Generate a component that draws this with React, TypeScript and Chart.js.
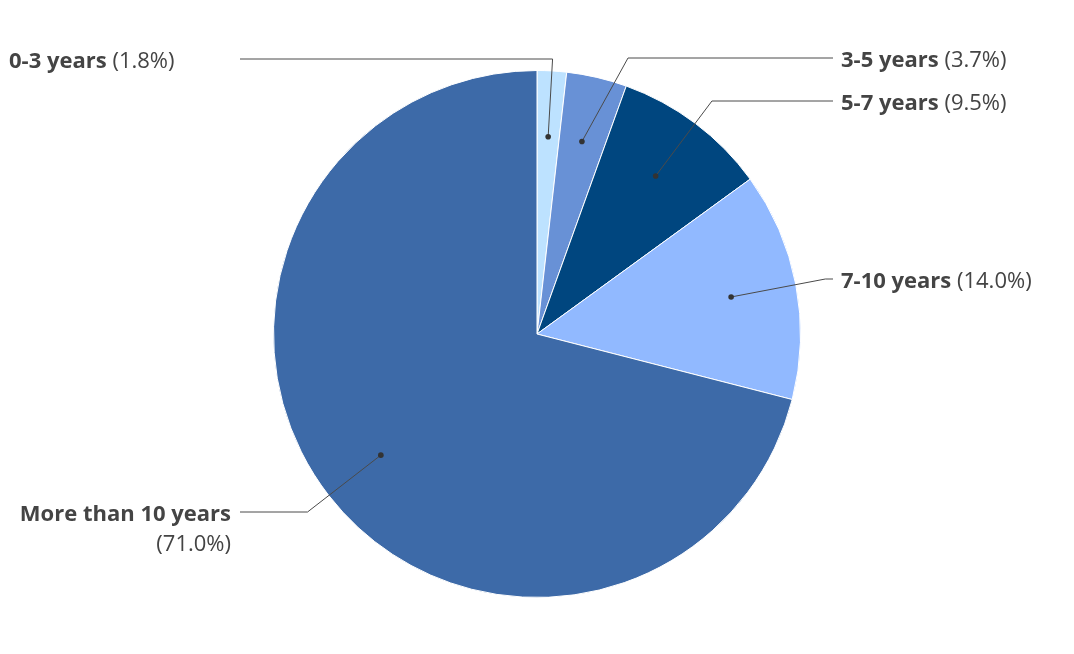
import React, { useEffect, useRef } from "react";
import { Chart, registerables } from "chart.js";

Chart.register(...registerables);

const categories = ["0-3 years", "3-5 years", "5-7 years", "7-10 years", "More than 10 years"];
const values = [1.8, 3.7, 9.5, 14.0, 71.0];
const percentLabels = ["(1.8%)", "(3.7%)", "(9.5%)", "(14.0%)", "(71.0%)"];
const colors = ["#BDE2FF", "#6891D6", "#00467F", "#91B9FF", "#3D6AA8"];

// label layout: side, line y, optional elbow x override, whether percent wraps to next line
const labelSide = ["left", "right", "right", "right", "left"];
const labelLineY = [59, 58, 101, 279, 512];
const labelElbowX: (number | null)[] = [null, 628, null, null, null];
const labelWrap = [false, false, false, false, true];
const labelLeftAlign = [true, false, false, false, false];

const FONT = "'Open Sans', sans-serif";
const TEXT_COLOR = "#444444";

const leaderPlugin = {
  id: "leaders",
  afterDraw(chart: any) {
    const ctx = chart.ctx;
    const meta = chart.getDatasetMeta(0);
    ctx.save();
    meta.data.forEach((arc: any, i: number) => {
      const p = arc.getProps(["x", "y", "startAngle", "endAngle", "outerRadius"], true);
      const mid = (p.startAngle + p.endAngle) / 2;
      const c = Math.cos(mid);
      const s = Math.sin(mid);
      const dx = p.x + c * p.outerRadius * 0.75;
      const dy = p.y + s * p.outerRadius * 0.75;
      const ly = labelLineY[i];
      let ex = dx + ((ly - dy) * c) / s;
      if (labelElbowX[i] !== null) ex = labelElbowX[i] as number;
      const right = labelSide[i] === "right";
      const lineEnd = right ? 833 : 240;
      ctx.strokeStyle = "#4a4a4a";
      ctx.lineWidth = 1;
      ctx.beginPath();
      ctx.moveTo(dx, dy);
      ctx.lineTo(ex, ly);
      ctx.lineTo(lineEnd, ly);
      ctx.stroke();
      ctx.fillStyle = "#333333";
      ctx.beginPath();
      ctx.arc(dx, dy, 2.8, 0, Math.PI * 2);
      ctx.fill();

      ctx.fillStyle = TEXT_COLOR;
      ctx.textBaseline = "middle";
      const boldFont = `bold 22px ${FONT}`;
      const regFont = `22px ${FONT}`;
      const name = categories[i];
      const pct = percentLabels[i];
      ctx.font = boldFont;
      const wName = ctx.measureText(name).width;
      ctx.font = regFont;
      const wSp = ctx.measureText(" ").width;
      const wPct = ctx.measureText(pct).width;
      const ty = ly + 3;
      if (right) {
        const x0 = 841;
        ctx.textAlign = "left";
        ctx.font = boldFont;
        ctx.fillText(name, x0, ty);
        ctx.font = regFont;
        ctx.fillText(" " + pct, x0 + wName, ty);
      } else if (labelWrap[i]) {
        const xr = 231;
        ctx.textAlign = "right";
        ctx.font = boldFont;
        ctx.fillText(name, xr, ty);
        ctx.font = regFont;
        ctx.fillText(pct, xr, ty + 30);
      } else if (labelLeftAlign[i]) {
        const x0 = 9;
        ctx.textAlign = "left";
        ctx.font = boldFont;
        ctx.fillText(name, x0, ty);
        ctx.font = regFont;
        ctx.fillText(" " + pct, x0 + wName, ty);
      } else {
        const xr = 231;
        ctx.textAlign = "left";
        const x0 = xr - (wName + wSp + wPct);
        ctx.font = boldFont;
        ctx.fillText(name, x0, ty);
        ctx.font = regFont;
        ctx.fillText(" " + pct, x0 + wName, ty);
      }
    });
    ctx.restore();
  },
};

export default function App() {
  const ref = useRef<HTMLCanvasElement>(null);
  useEffect(() => {
    document.body.style.margin = "0";
    const chart = new Chart(ref.current as HTMLCanvasElement, {
      type: "pie",
      data: {
        labels: categories,
        datasets: [
          {
            data: values,
            backgroundColor: colors,
            borderColor: "#ffffff",
            borderWidth: 1,
          },
        ],
      },
      options: {
        animation: false,
        responsive: false,
        layout: { padding: { top: 70, bottom: 56, left: 273, right: 273 } },
        plugins: {
          legend: { display: false },
          tooltip: { enabled: false },
        },
      },
      plugins: [leaderPlugin],
    });
    return () => chart.destroy();
  }, []);
  return (
    <div style={{ width: 1074, height: 654, background: "#ffffff" }}>
      <canvas ref={ref} width={1074} height={654} style={{ display: "block" }} />
    </div>
  );
}
